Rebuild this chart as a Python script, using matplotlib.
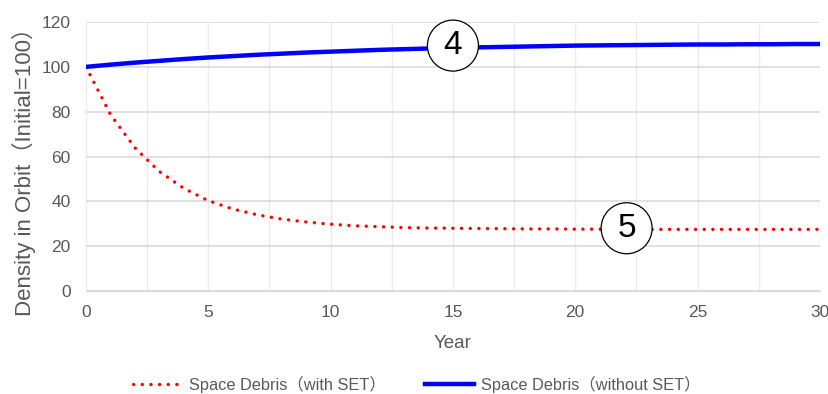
import matplotlib.pyplot as plt
import numpy as np

plt.rcParams['font.family'] = ['Liberation Sans', 'Noto Sans CJK JP', 'DejaVu Sans']

years = list(range(0, 31))
with_set = [100, 78.8, 63.9, 53.3, 45.8, 40.3, 36.6, 34.0, 32.1, 30.8,
            29.8, 29.1, 28.7, 28.3, 28.1, 28.0, 27.9, 27.8, 27.7, 27.7,
            27.6, 27.6, 27.6, 27.5, 27.5, 27.5, 27.5, 27.5, 27.5, 27.5, 27.5]
without_set = [100, 101.0, 101.9, 102.7, 103.5, 104.2, 104.8, 105.4, 105.9, 106.4,
               106.8, 107.2, 107.6, 107.9, 108.2, 108.5, 108.7, 108.9, 109.1, 109.3,
               109.5, 109.6, 109.7, 109.8, 109.9, 110.0, 110.0, 110.1, 110.1, 110.2, 110.2]
labels = ['Space Debris（with SET）', 'Space Debris（without SET）']
notes = [('4', 15, 109.5), ('5', 22.1, 28.0)]

fig = plt.figure(figsize=(8.29, 3.94), dpi=100)
ax = fig.add_axes([0.1037, 0.2614, 0.8853, 0.6826])

ax.plot(years, with_set, color='#ff0000', lw=2.4, linestyle=(0, (0.05, 2.55)),
        dash_capstyle='round', label=labels[0], zorder=3)
ax.plot(years, without_set, color='#0000ff', lw=3.2, label=labels[1], zorder=3)

ax.set_xlim(0, 30)
ax.set_ylim(0, 120)
ax.set_xticks(range(0, 31, 5))
ax.set_yticks(range(0, 121, 20))
ax.set_xticks(np.arange(0, 30.1, 2.5), minor=True)
ax.grid(axis='y', which='major', color='#d9d9d9', lw=1.1)
ax.grid(axis='x', which='both', color='#ececec', lw=1.0)
ax.tick_params(which='both', length=0, colors='#595959', labelsize=12.5)
ax.tick_params(axis='x', pad=10)
ax.tick_params(axis='y', pad=11)
for s in ['top', 'right', 'left']:
    ax.spines[s].set_visible(False)
ax.spines['bottom'].set_color('#d9d9d9')
ax.set_axisbelow(True)

ax.set_xlabel('Year', color='#595959', fontsize=13.5, labelpad=11)
ax.set_ylabel('Density in Orbit（Initial=100）', color='#595959', fontsize=16)
ax.yaxis.set_label_coords(-0.068, 0.462)

for txt, x, y in notes:
    ax.text(x, y, txt, fontsize=24, ha='center', va='center', zorder=5,
            bbox=dict(boxstyle='circle,pad=0.3', fc='white', ec='black', lw=0.9))

fig.legend(loc='center', bbox_to_anchor=(0.5024, 0.025), ncol=2, frameon=False,
           fontsize=11.8, labelcolor='#595959', handlelength=3.0, handletextpad=0.4,
           columnspacing=2.4)

fig.savefig('out.png', dpi=100)
